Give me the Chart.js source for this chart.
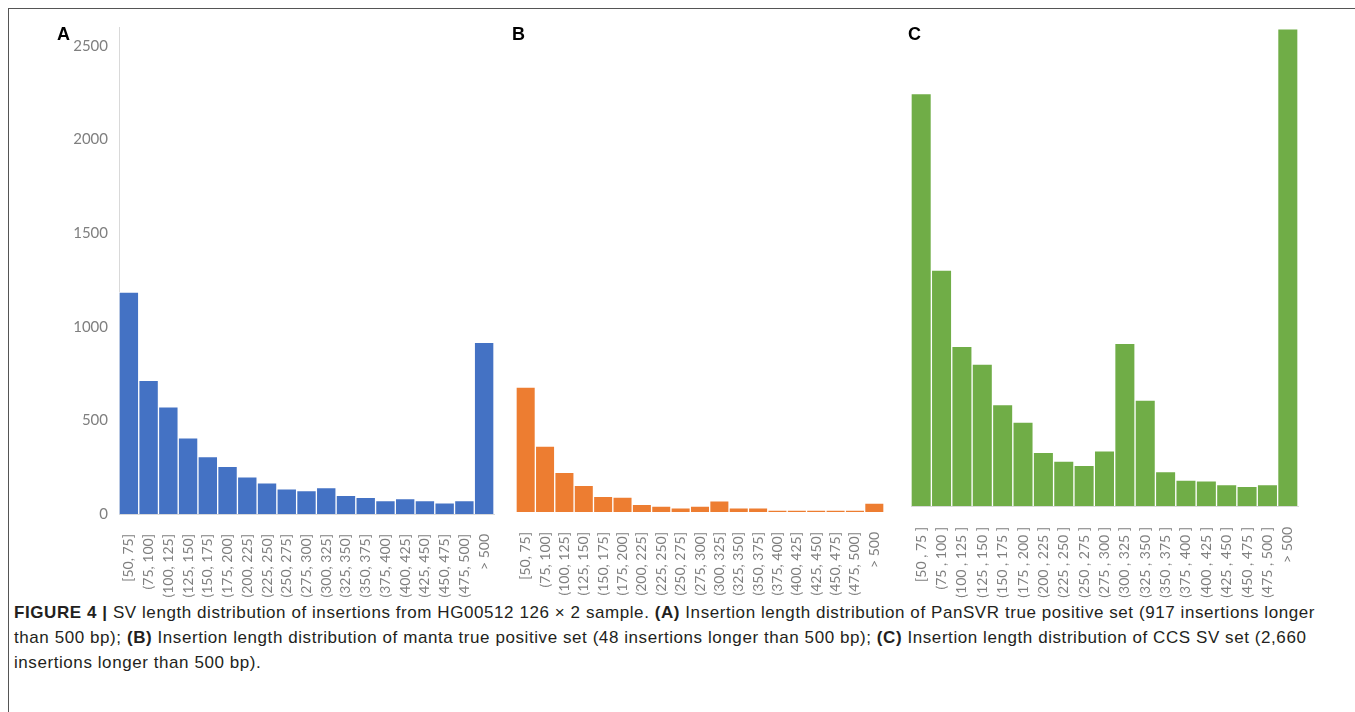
<!DOCTYPE html>
<html>
<head>
<meta charset="utf-8">
<script src="https://cdn.jsdelivr.net/npm/chart.js@4.4.0/dist/chart.umd.min.js"></script>
<style>
  body { margin: 0; background: #fff; width: 1355px; height: 712px; overflow: hidden; position: relative; }
  .frame { position: absolute; left: 8px; top: 8px; width: 1347px; height: 704px; border-top: 1px solid #555; border-left: 1px solid #555; }
  canvas { position: absolute; top: 0; }
  .panel-letter { position: absolute; top: 24px; font: bold 18px "Liberation Sans", Arial, sans-serif; color: #000; }
  .caption { position: absolute; left: 14px; top: 600px; font: 17px "Liberation Sans", Arial, sans-serif; line-height: 25px; color: #231f20; white-space: nowrap; }
  .caption b { font-weight: bold; }
</style>
</head>
<body>
<div class="frame"></div>
<canvas id="chartA" width="500" height="600" style="left:0px"></canvas>
<canvas id="chartB" width="390" height="600" style="left:500px"></canvas>
<canvas id="chartC" width="410" height="600" style="left:895px"></canvas>
<div class="panel-letter" style="left:57px">A</div>
<div class="panel-letter" style="left:512px">B</div>
<div class="panel-letter" style="left:908px">C</div>
<div class="caption" id="caption">
  <div id="capLine1"><b>FIGURE 4 |</b> SV length distribution of insertions from HG00512 126 × 2 sample. <b>(A)</b> Insertion length distribution of PanSVR true positive set (917 insertions longer</div>
  <div>than 500 bp); <b>(B)</b> Insertion length distribution of manta true positive set (48 insertions longer than 500 bp); <b>(C)</b> Insertion length distribution of CCS SV set (2,660</div>
  <div>insertions longer than 500 bp).</div>
</div>
<script>
// bins for panels A and B
const binLabelsAB = ['[50, 75]', '(75, 100]', '(100, 125]', '(125, 150]', '(150, 175]', '(175, 200]',
  '(200, 225]', '(225, 250]', '(250, 275]', '(275, 300]', '(300, 325]', '(325, 350]', '(350, 375]',
  '(375, 400]', '(400, 425]', '(425, 450]', '(450, 475]', '(475, 500]', '> 500'];
// panel C uses spaced labels
const binLabelsC = ['[50 , 75 ]', '(75 , 100 ]', '(100 , 125 ]', '(125 , 150 ]', '(150 , 175 ]', '(175 , 200 ]',
  '(200 , 225 ]', '(225 , 250 ]', '(250 , 275 ]', '(275 , 300 ]', '(300 , 325 ]', '(325 , 350 ]', '(350 , 375 ]',
  '(375 , 400 ]', '(400 , 425 ]', '(425 , 450 ]', '(450 , 475 ]', '(475 , 500 ]', '> 500'];

const countsPanSVR = [1185, 713, 572, 406, 306, 255, 199, 167, 134, 125, 141, 100, 89, 71, 82, 71, 60, 71, 917];
const countsManta = [670, 353, 212, 143, 84, 80, 41, 32, 23, 32, 60, 23, 23, 10, 10, 10, 10, 10, 48];
const countsCCS = [2299, 1315, 890, 791, 565, 468, 299, 251, 227, 307, 907, 591, 192, 144, 140, 120, 109, 120, 2660];

const yTicks = [0, 500, 1000, 1500, 2000, 2500];

const axisGray = '#d9d9d9';
const labelGray = '#7f7f7f';

function makeHist(canvasId, labels, data, color, opts) {
  const ctx = document.getElementById(canvasId).getContext('2d');
  return new Chart(ctx, {
    type: 'bar',
    data: {
      labels: labels,
      datasets: [
        {
          data: data,
          backgroundColor: color,
          borderColor: 'rgba(255,255,255,0.7)',
          borderWidth: 1,
          borderSkipped: 'bottom',
          barPercentage: 1,
          categoryPercentage: 1,
        },
      ],
    },
    options: {
      responsive: false,
      devicePixelRatio: 1,
      animation: false,
      layout: { padding: opts.padding },
      scales: {
        x: {
          grid: { display: false },
          border: { display: opts.xLine, color: axisGray, width: 1 },
          ticks: {
            autoSkip: false,
            minRotation: 90,
            maxRotation: 90,
            padding: opts.labelPad,
            color: labelGray,
            font: { family: 'Lato', size: 14 },
          },
          afterFit: (axis) => {
            axis.height = opts.xHeight;
            axis.paddingLeft = 0;
            axis.paddingRight = 0;
          },
        },
        y: {
          display: opts.showY,
          min: 0,
          max: opts.yMax,
          grid: { display: false },
          border: { display: true, color: axisGray, width: 1 },
          ticks: {
            padding: 3,
            color: labelGray,
            font: { family: 'Lato', size: 15 },
            callback: (v) => String(v),
          },
          afterBuildTicks: (axis) => {
            axis.ticks = yTicks.map((v) => ({ value: v }));
          },
          afterFit: (axis) => {
            if (opts.showY) axis.width = 119;
          },
        },
      },
      plugins: {
        legend: { display: false },
        tooltip: { enabled: false },
      },
    },
  });
}

makeHist('chartA', binLabelsAB, countsPanSVR, '#4472c4', {
  padding: { top: 27, left: 0, right: 6, bottom: 0 },
  xHeight: 86, labelPad: 12, showY: true, yMax: 2600, xLine: true,
});
makeHist('chartB', binLabelsAB, countsManta, '#ed7d31', {
  padding: { top: 27, left: 16, right: 6, bottom: 0 },
  xHeight: 88, labelPad: 12, showY: false, yMax: 2600, xLine: false,
});
makeHist('chartC', binLabelsC, countsCCS, '#70ad47', {
  padding: { top: 27, left: 16, right: 7, bottom: 0 },
  xHeight: 94, labelPad: 13, showY: false, yMax: 2670, xLine: true,
});

// stretch caption spacing so the first line ends where the figure's does
const cap = document.getElementById('caption');
const line1 = document.getElementById('capLine1');
const range = document.createRange();
range.selectNodeContents(line1);
const textW = range.getBoundingClientRect().width;
const nChars = line1.textContent.length;
cap.style.letterSpacing = ((1301 - textW) / nChars).toFixed(3) + 'px';
</script>
</body>
</html>
